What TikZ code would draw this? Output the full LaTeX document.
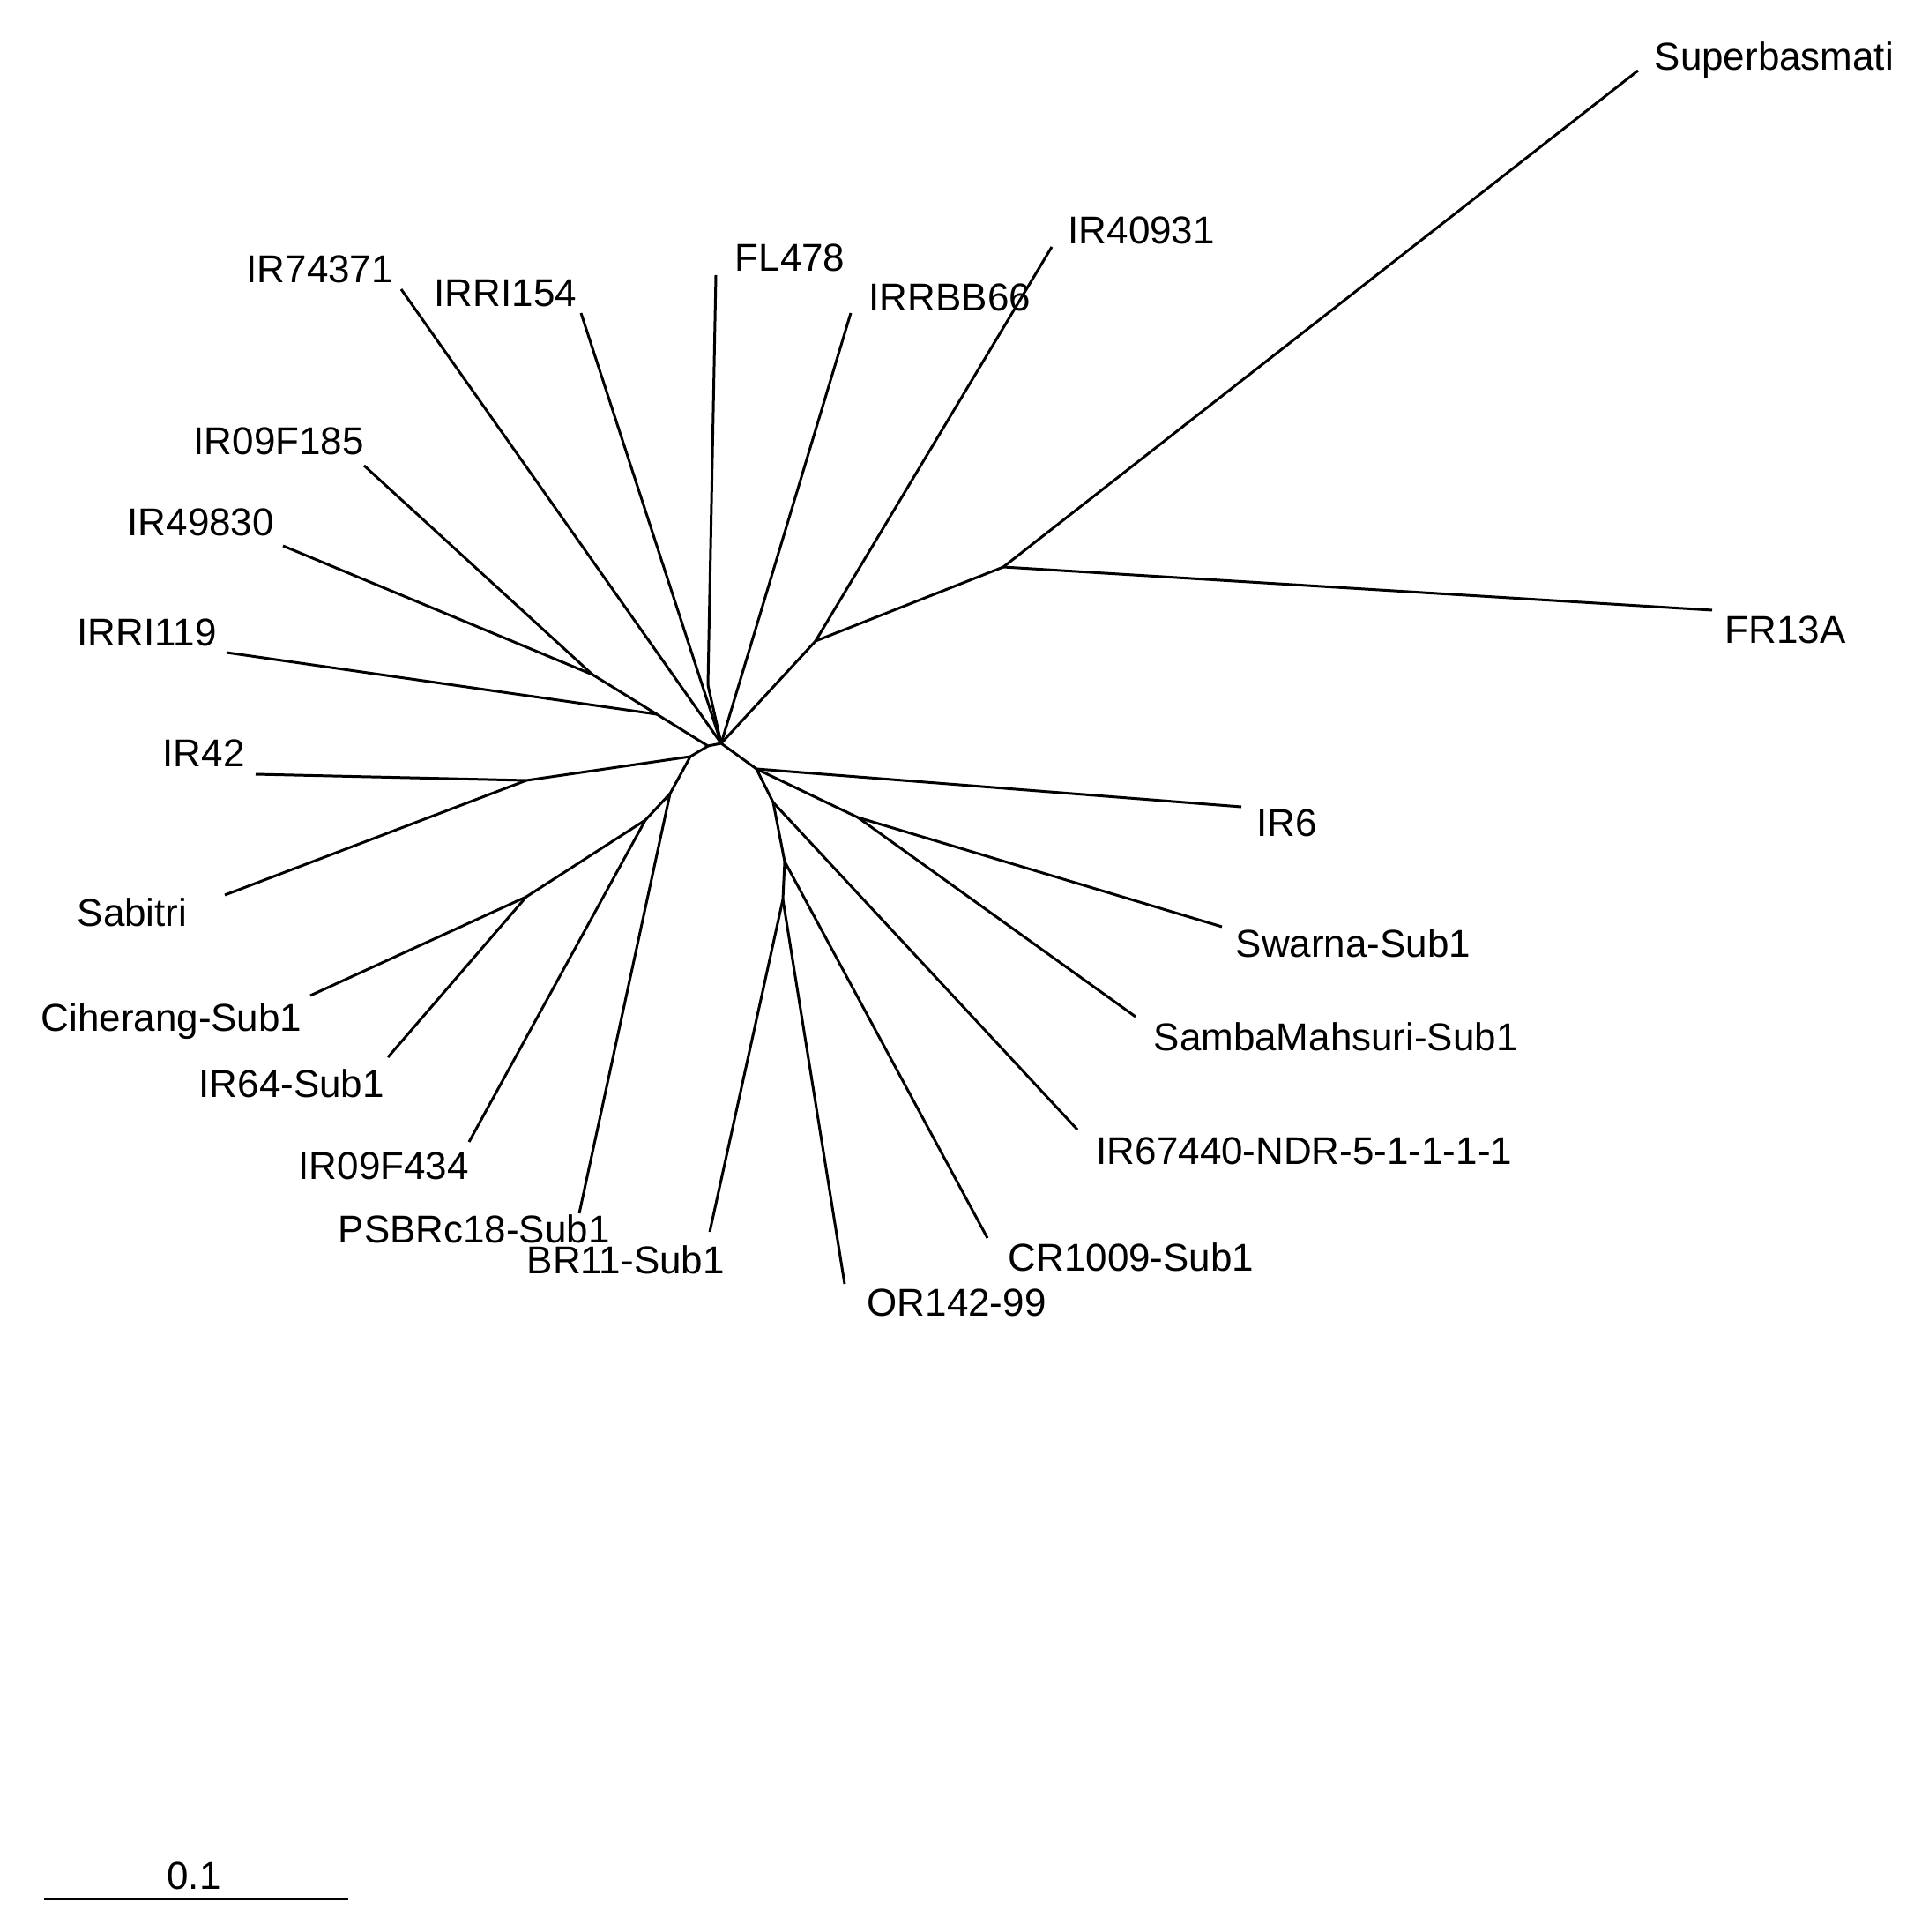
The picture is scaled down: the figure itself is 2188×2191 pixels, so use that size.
\documentclass[tikz,border=0pt]{standalone}
\usepackage{fontspec}
\setmainfont{Liberation Sans}
\usepackage{tikz}

\begin{document}
\begin{tikzpicture}[x=0.01cm,y=-0.01cm,
    branch/.style={line width=0.85pt},
    taxon/.style={anchor=west,inner sep=0pt,text height=8.8pt,text depth=0pt,
      font=\fontsize{12.5}{14}\selectfont}]
  \useasboundingbox (0,0) rectangle (2188,2191);
  % inner nodes of the tree
  \foreach \n/\px/\py in {c0/818/843,c1/803/846,n4/925/727,n5/1138/643,nfl/803/777,
      a1/672/765,a2/745/810,b/783/858,n42/597/885,d/760/900,e/732/930,f/597/1017,
      g/858/872,h/973/927,i/877/910,j/890/977,k/888/1020}
    \coordinate (\n) at (\px,\py);
  % tips
  \foreach \n/\px/\py in {sup/1858/80,fr/1942/692,ir40931/1193/280,irrbb/965/355,
      fl/812/312,irri154/659/355,ir74371/455/328,ir185/413/528,ir49830/321/619,
      irri119/257/740,ir42/290/878,sab/255/1015,cih/352/1129,ir64/440/1199,
      ir434/532/1295,psb/657/1376,br11/805/1397,or142/958/1456,cr1009/1120/1404,
      ir67440/1222/1281,samba/1288/1153,swarna/1386/1051,ir6/1408/915}
    \coordinate (\n) at (\px,\py);
  % labels
  \foreach \n/\lx/\ly/\lab in {sup/1876/64/Superbasmati,fr/1956/714/FR13A,
      ir40931/1211/261/IR40931,irrbb/985/337/IRRBB66,fl/833/292/FL478,
      irri154/492/332/IRRI154,ir74371/279/305/IR74371,ir185/219/500/IR09F185,
      ir49830/144/592/IR49830,irri119/87/717/IRRI119,ir42/184/854/IR42,
      sab/87/1035/Sabitri,cih/46/1154/Ciherang-Sub1,ir64/225/1229/IR64-Sub1,
      ir434/338/1322/IR09F434,psb/383/1394/PSBRc18-Sub1,br11/597/1429/BR11-Sub1,
      or142/983/1477/OR142-99,cr1009/1143/1426/CR1009-Sub1,
      ir67440/1243/1305/IR67440-NDR-5-1-1-1-1,samba/1308/1176/SambaMahsuri-Sub1,
      swarna/1401/1070/Swarna-Sub1,ir6/1425/933/IR6}
    \node[taxon] (l\n) at (\lx,\ly) {\lab};
  % branches
  \foreach \a/\b in {c0/c1,c0/n4,n4/n5,n5/sup,n5/fr,n4/ir40931,c0/irrbb,c0/nfl,nfl/fl,
      c0/irri154,c0/ir74371,c1/a2,a2/a1,a1/ir185,a1/ir49830,a2/irri119,
      c1/b,b/n42,n42/ir42,n42/sab,b/d,d/psb,d/e,e/ir434,e/f,f/cih,f/ir64,
      c0/g,g/ir6,g/h,h/swarna,h/samba,g/i,i/ir67440,i/j,j/cr1009,j/k,k/br11,k/or142}
    \draw[branch] (\a) -- (\b);
  % scale bar
  \coordinate (sb0) at (50,2153);
  \coordinate (sb1) at (395,2153);
  \draw[branch] (sb0) -- (sb1);
  \node[taxon,anchor=center] (sblab) at (220,2127) {0.1};
\end{tikzpicture}
\end{document}
